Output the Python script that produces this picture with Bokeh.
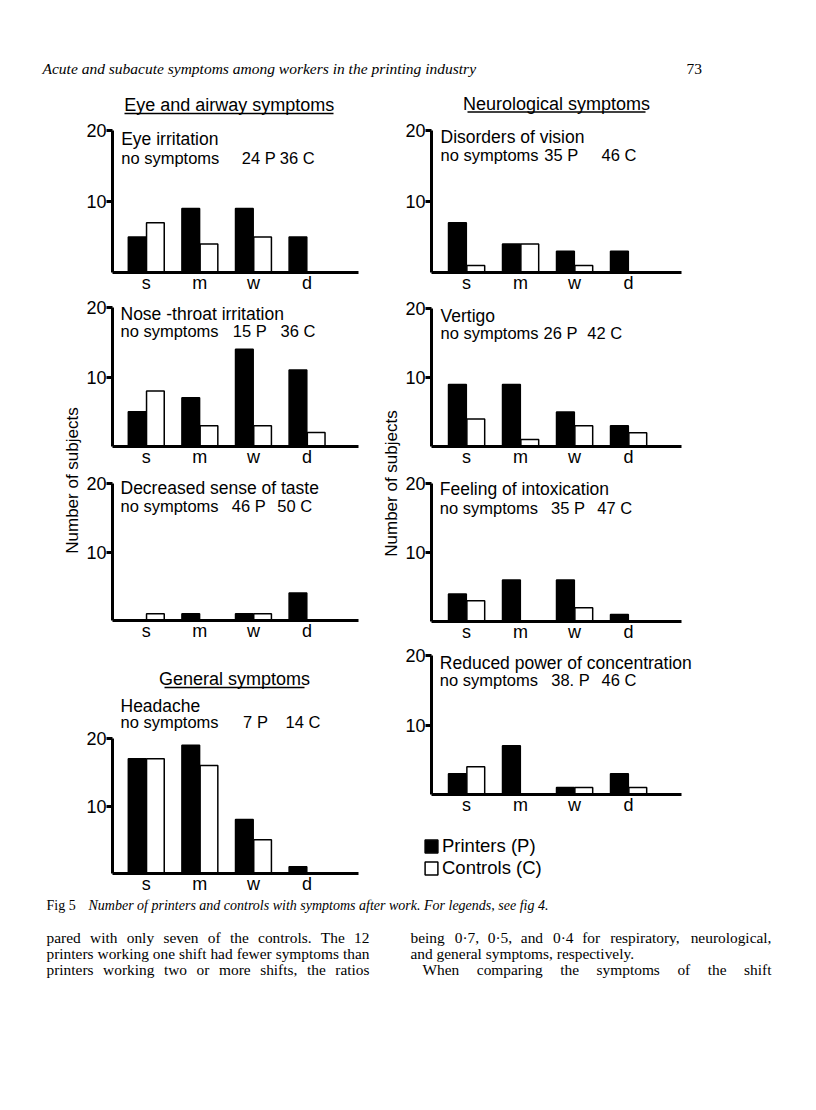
import numpy as np
from bokeh.plotting import figure
from bokeh.models import Range1d, FixedTicker, Label, Legend, LegendItem
from bokeh.layouts import column, row
from bokeh.embed import file_html
from bokeh.resources import INLINE

# ---------------- data ----------------
categories = ["s", "m", "w", "d"]

eye_P = [5, 9, 9, 5]
eye_C = [7, 4, 5, 0]
nose_P = [5, 7, 14, 11]
nose_C = [8, 3, 3, 2]
taste_P = [0, 1, 1, 4]
taste_C = [1, 0, 1, 0]
headache_P = [17, 19, 8, 1]
headache_C = [17, 16, 5, 0]
vision_P = [7, 4, 3, 3]
vision_C = [1, 4, 1, 0]
vertigo_P = [9, 9, 5, 3]
vertigo_C = [4, 1, 3, 2]
intox_P = [4, 6, 6, 1]
intox_C = [3, 0, 2, 0]
conc_P = [3, 7, 1, 3]
conc_C = [4, 0, 1, 1]

# subjects without symptoms (P, C)
nosym_eye = (24, 36)
nosym_nose = (15, 36)
nosym_taste = (46, 50)
nosym_headache = (7, 14)
nosym_vision = (35, 46)
nosym_vertigo = (26, 42)
nosym_intox = (35, 47)
nosym_conc = (38, 46)

yticks = [10, 20]

# ---------------- styling ----------------
SANS = "Liberation Sans"
SERIF = "Liberation Serif"
TXT1 = "17.5px"
TXT2 = "16.5px"
BIG = "18px"
INK = "black"


def base_fig(w, h, xr, yr, **kw):
    p = figure(width=w, height=h, x_range=xr, y_range=yr, output_backend="svg",
               toolbar_location=None, outline_line_color=None,
               background_fill_color="white", border_fill_color="white", **kw)
    p.xgrid.visible = False
    p.ygrid.visible = False
    return p


def page_fig(x0, y0, w, h):
    return base_fig(w, h, Range1d(x0, x0 + w), Range1d(y0 + h, y0),
                    x_axis_type=None, y_axis_type=None,
                    min_border_left=0, min_border_right=0, min_border_top=0, min_border_bottom=0)


def lbl(x, y, text, font=SANS, size=TXT1, align="left", **kw):
    return Label(x=x, y=y, text=text, text_font=font, text_font_size=size,
                 text_align=align, text_baseline="middle", text_color=INK, **kw)


def panel(fig_x, fig_w, top, bottom, axis_x, axis_r, frame_r, base, y20, pitch, x0,
          P, C, name, nosym, pos, title=None, pdot=""):
    k = (base - y20) / 20.0
    p = base_fig(fig_w, bottom - top,
                 Range1d(x0, x0 + (frame_r - axis_x) / pitch),
                 Range1d(0, (base - top) / k),
                 min_border_left=axis_x - fig_x, min_border_right=fig_x + fig_w - frame_r,
                 min_border_top=0, min_border_bottom=bottom - base)
    p.extra_x_ranges = {"px": Range1d(axis_x, frame_r)}
    p.extra_y_ranges = {"py": Range1d(base, top)}

    xs = np.arange(len(categories))
    rP = p.vbar(x=xs - 0.17, top=P, bottom=0, width=0.33, fill_color="black",
                line_color="black", line_width=1.5)
    rC = p.vbar(x=xs + 0.17, top=C, bottom=0, width=0.33, fill_color="white",
                line_color="black", line_width=1.5)

    xa = p.xaxis[0]
    xa.ticker = FixedTicker(ticks=list(xs), minor_ticks=[])
    xa.major_label_overrides = {int(i): c for i, c in zip(xs, categories)}
    xa.bounds = (x0, x0 + (axis_r - axis_x) / pitch)
    xa.major_tick_line_color = None
    xa.minor_tick_line_color = None
    xa.axis_line_width = 3
    xa.axis_line_color = INK
    xa.major_label_standoff = -6
    xa.major_label_text_font = SANS
    xa.major_label_text_font_size = BIG
    xa.major_label_text_color = INK

    ya = p.yaxis[0]
    ya.ticker = FixedTicker(ticks=yticks, minor_ticks=[])
    ya.bounds = (0, 20)
    ya.axis_line_width = 3
    ya.axis_line_color = INK
    ya.major_tick_line_width = 3
    ya.major_tick_line_color = INK
    ya.major_tick_out = 6
    ya.major_tick_in = 0
    ya.minor_tick_line_color = None
    ya.major_label_standoff = 0
    ya.major_label_text_font = SANS
    ya.major_label_text_font_size = BIG
    ya.major_label_text_color = INK

    (tx, ty1, ty2, xp_mid, xc) = pos
    rr = dict(x_range_name="px", y_range_name="py")
    p.add_layout(lbl(tx, ty1, name, size=TXT1, **rr))
    p.add_layout(lbl(tx, ty2, "no symptoms", size=TXT2, **rr))
    p.add_layout(lbl(xp_mid, ty2, f"{nosym[0]}{pdot} P", size=TXT2, align="center", **rr))
    p.add_layout(lbl(xc, ty2, f"{nosym[1]} C", size=TXT2, **rr))

    if title is not None:
        (ttext, cx, tcy, ux0, ux1, uy) = title
        p.add_layout(lbl(cx, tcy, ttext, size=BIG, align="center", **rr))
        p.segment(x0=[ux0], y0=[uy], x1=[ux1], y1=[uy], line_color=INK,
                  line_width=1.5, **rr)
    return p, rP, rC


LX, LW = 82, 299
RX, RW = 401, 415
LPITCH, LX0 = 53.6, -0.63
RPITCH, RX0 = 54.0, -0.65

# left column
pA, _, _ = panel(LX, LW, 85, 298, 112, 358, 375, 272, 130, LPITCH, LX0, eye_P, eye_C,
                 "Eye irritation", nosym_eye, (120.7, 138.3, 157.2, 258.3, 279.3),
                 ("Eye and airway symptoms", 228.7, 104.7, 124, 333, 113))
pB, _, _ = panel(LX, LW, 298, 472, 112, 358, 375, 446, 307, LPITCH, LX0, nose_P, nose_C,
                 "Nose -throat irritation", nosym_nose, (120, 313.8, 330.8, 249.2, 280))
pC, _, _ = panel(LX, LW, 472, 646, 112, 358, 375, 620, 483, LPITCH, LX0, taste_P, taste_C,
                 "Decreased sense of taste", nosym_taste, (120, 487.5, 505, 248.3, 276.7))
pD, _, _ = panel(LX, LW, 646, 899, 112, 358, 375, 873, 738, LPITCH, LX0, headache_P, headache_C,
                 "Headache", nosym_headache, (120, 705.5, 721.7, 255, 285),
                 ("General symptoms", 234, 678.3, 164, 304, 687))

# right column
qA, _, _ = panel(RX, RW, 85, 298, 431, 681, 790, 272, 130, RPITCH, RX0, vision_P, vision_C,
                 "Disorders of vision", nosym_vision, (440, 136.3, 154.7, 560.8, 601),
                 ("Neurological symptoms", 556, 103.3, 467, 645, 111.5))
qB, _, _ = panel(RX, RW, 298, 472, 431, 681, 790, 446, 308, RPITCH, RX0, vertigo_P, vertigo_C,
                 "Vertigo", nosym_vertigo, (440, 315.3, 332.8, 560, 586.7))
qC, _, _ = panel(RX, RW, 472, 647, 431, 681, 790, 621, 483, RPITCH, RX0, intox_P, intox_C,
                 "Feeling of intoxication", nosym_intox, (439.3, 488.8, 507.2, 567.5, 596.7))
qD, _, _ = panel(RX, RW, 647, 820, 431, 681, 790, 794, 655, RPITCH, RX0, conc_P, conc_C,
                 "Reduced power of concentration", nosym_conc, (439.3, 662.5, 679.8, 570, 601),
                 pdot=".")

# legend figure (legend swatches take their style from hidden copies of the bar series)
LEGX = 381
leg = base_fig(816 - LEGX, 899 - 820, Range1d(0, 1), Range1d(0, 1),
               x_axis_type=None, y_axis_type=None,
               min_border_left=423 - LEGX, min_border_top=15, min_border_right=0,
               min_border_bottom=0)
xs_all = np.arange(len(categories))
lp = leg.vbar(x=xs_all, top=conc_P, width=0.3, fill_color="black", line_color="black",
              line_width=1.5, visible=False)
lc = leg.vbar(x=xs_all, top=conc_C, width=0.3, fill_color="white", line_color="black",
              line_width=1.5, visible=False)
legend = Legend(items=[LegendItem(label="Printers (P)", renderers=[lp]),
                       LegendItem(label="Controls (C)", renderers=[lc])],
                location="top_left", orientation="vertical",
                glyph_width=16, glyph_height=16, label_height=16, label_standoff=3,
                spacing=0, padding=0, margin=0, border_line_color=None,
                background_fill_alpha=0, label_text_font=SANS, label_text_font_size="18.5px",
                label_text_color=INK)
leg.add_layout(legend)

# strips with y labels
sl = page_fig(0, 85, 82, 814)
sl.add_layout(lbl(71.5, 480, "Number of subjects", size="17px", align="center",
                  angle=np.pi / 2))
sm = page_fig(381, 85, 20, 820 - 85)
sm.add_layout(lbl(391, 483, "Number of subjects", size="17px", align="center",
                  angle=np.pi / 2))

# header
hd = page_fig(0, 0, 816, 85)
hd.add_layout(lbl(42, 68, "Acute and subacute symptoms among workers in the printing industry",
                  font=SERIF, size="15.5px", text_font_style="italic"))
hd.add_layout(lbl(686, 68, "73", font=SERIF, size="15.5px"))

# footer
ft = page_fig(0, 899, 816, 211)
ft.add_layout(lbl(46, 905, "Fig 5", font=SERIF, size="14px"))
ft.add_layout(lbl(88, 905, "Number of printers and controls with symptoms after work. For legends, see fig 4.",
                  font=SERIF, size="14px", text_font_style="italic"))

TIMES_W = {" ": 250, "a": 444, "b": 500, "c": 444, "d": 500, "e": 444, "f": 333, "g": 500,
           "h": 500, "i": 278, "j": 278, "k": 500, "l": 278, "m": 778, "n": 500, "o": 500,
           "p": 500, "q": 500, "r": 333, "s": 389, "t": 278, "u": 500, "v": 500, "w": 722,
           "x": 500, "y": 500, "z": 444, "T": 611, "W": 944, ".": 250, ",": 250, "·": 250}
BODY = 15.4


def text_w(s):
    return sum(TIMES_W.get(ch, 500) for ch in s) * BODY / 1000.0


def set_line(fig, line, x0, x1, yc, justify):
    words = line.split()
    widths = [text_w(w) for w in words]
    if justify and len(words) > 1:
        gap = (x1 - x0 - sum(widths)) / (len(words) - 1)
    else:
        gap = TIMES_W[" "] * BODY / 1000.0
    x = x0
    for w, wd in zip(words, widths):
        fig.add_layout(lbl(x, yc, w, font=SERIF, size=f"{BODY}px"))
        x += wd + gap


left_lines = ["pared with only seven of the controls. The 12",
              "printers working one shift had fewer symptoms than",
              "printers working two or more shifts, the ratios"]
right_lines = ["being 0·7, 0·5, and 0·4 for respiratory, neurological,",
               "and general symptoms, respectively.",
               "When comparing the symptoms of the shift"]
for i, line in enumerate(left_lines):
    set_line(ft, line, 46, 369, 937 + 16 * i, True)
set_line(ft, right_lines[0], 410, 771, 937, True)
set_line(ft, right_lines[1], 410, 771, 953, False)
set_line(ft, right_lines[2], 422, 771, 969, True)

right_block = column(row(sm, column(qA, qB, qC, qD)), leg)
layout = column(hd,
                row(sl, column(pA, pB, pC, pD), right_block),
                ft)

open("out.html", "w").write(file_html(layout, INLINE))
